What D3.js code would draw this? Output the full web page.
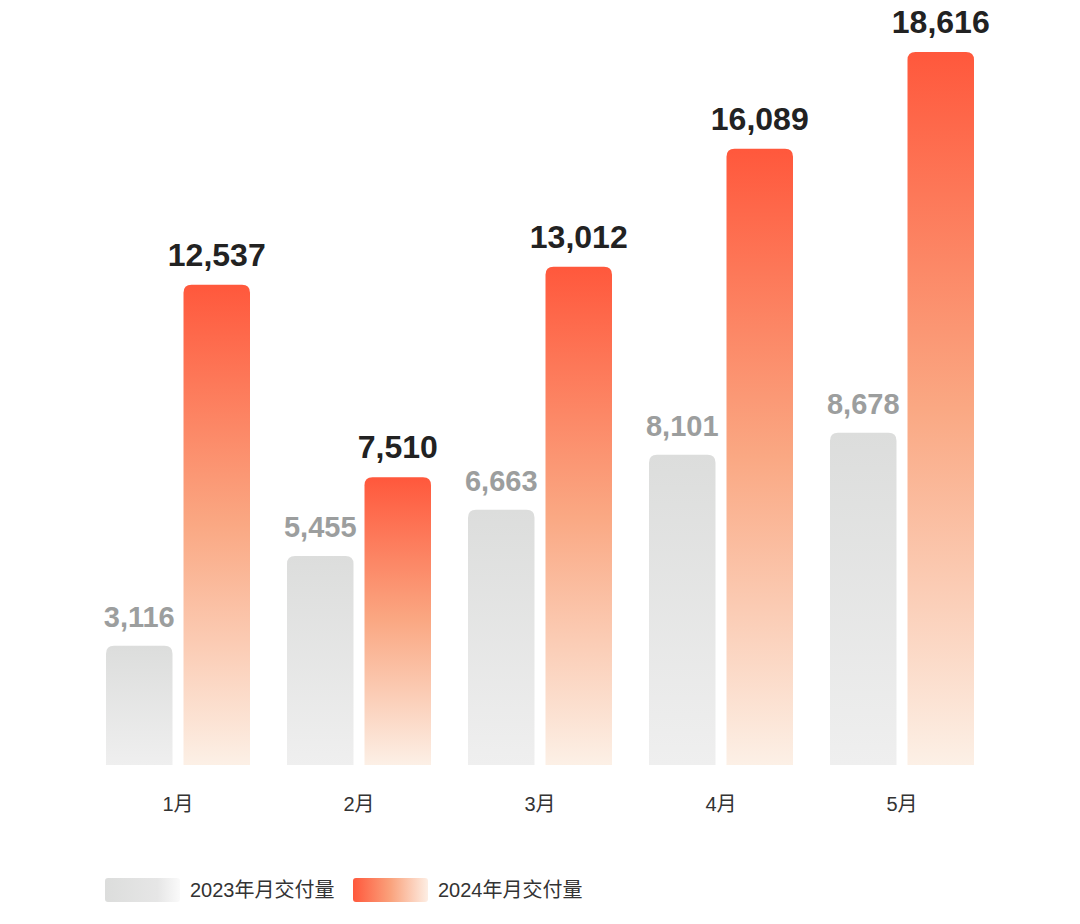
<!doctype html>
<html>
<head>
  <meta charset="utf-8">
  <title>月交付量</title>
  <style>
    body { margin: 0; background: #fff; }
    svg { display: block; font-family: "Liberation Sans", Arial, "Noto Sans CJK SC", sans-serif; }
  </style>
</head>
<body>
  <div id="chart"></div>
  <script src="https://cdn.jsdelivr.net/npm/d3@7/dist/d3.min.js"></script>
  <script>
    const months = ['1月', '2月', '3月', '4月', '5月'];
    const series = ['2023', '2024'];
    const values2023 = [3116, 5455, 6663, 8101, 8678];
    const values2024 = [12537, 7510, 13012, 16089, 18616];
    const legendLabels = ['2023年月交付量', '2024年月交付量'];

    const width = 1080;
    const height = 924;
    const baseY = 765;
    const topY = 52;

    const svg = d3.select('#chart').append('svg')
      .attr('width', width).attr('height', height);

    const defs = svg.append('defs');

    // vertical gradients for bars
    const gGray = defs.append('linearGradient').attr('id', 'barGray')
      .attr('x1', 0).attr('y1', 0).attr('x2', 0).attr('y2', 1);
    gGray.append('stop').attr('offset', '0%').attr('stop-color', '#dcdddc');
    gGray.append('stop').attr('offset', '100%').attr('stop-color', '#efefef');

    const gOrange = defs.append('linearGradient').attr('id', 'barOrange')
      .attr('x1', 0).attr('y1', 0).attr('x2', 0).attr('y2', 1);
    gOrange.append('stop').attr('offset', '0%').attr('stop-color', '#ff583c');
    gOrange.append('stop').attr('offset', '50%').attr('stop-color', '#faa883');
    gOrange.append('stop').attr('offset', '100%').attr('stop-color', '#fcf0e6');

    // horizontal gradients for legend
    const lGray = defs.append('linearGradient').attr('id', 'legGray');
    lGray.append('stop').attr('offset', '0%').attr('stop-color', '#dcdddc');
    lGray.append('stop').attr('offset', '70%').attr('stop-color', '#e6e6e6');
    lGray.append('stop').attr('offset', '100%').attr('stop-color', '#fafafa');

    const lOrange = defs.append('linearGradient').attr('id', 'legOrange');
    lOrange.append('stop').attr('offset', '0%').attr('stop-color', '#ff583c');
    lOrange.append('stop').attr('offset', '50%').attr('stop-color', '#faa27c');
    lOrange.append('stop').attr('offset', '100%').attr('stop-color', '#fdeee4');

    const x0 = d3.scaleBand().domain(months)
      .range([87.5, 992.5]).paddingInner(0.2044).paddingOuter(0.1022);
    const x1 = d3.scaleBand().domain(series)
      .range([0, x0.bandwidth()]).paddingInner(0.142);
    const y = d3.scaleLinear().domain([0, d3.max(values2024)]).range([baseY, topY]);

    const fills = { '2023': 'url(#barGray)', '2024': 'url(#barOrange)' };
    const labelStyle = {
      '2023': { color: '#9c9e9e', size: 29 },
      '2024': { color: '#222222', size: 32 }
    };

    const rows = months.map((m, i) => ({
      month: m,
      items: [
        { key: '2023', value: values2023[i] },
        { key: '2024', value: values2024[i] }
      ]
    }));

    // path with rounded top corners only
    const topRounded = (x, yTop, w, h, r) =>
      `M${x},${yTop + h}V${yTop + r}Q${x},${yTop} ${x + r},${yTop}` +
      `H${x + w - r}Q${x + w},${yTop} ${x + w},${yTop + r}V${yTop + h}Z`;

    const groups = svg.selectAll('g.month').data(rows).join('g')
      .attr('class', 'month')
      .attr('transform', d => `translate(${x0(d.month)},0)`);

    groups.selectAll('path').data(d => d.items).join('path')
      .attr('d', d => topRounded(x1(d.key), y(d.value), x1.bandwidth(), baseY - y(d.value), 8))
      .attr('fill', d => fills[d.key]);

    const fmt = d3.format(',');
    groups.selectAll('text.val').data(d => d.items).join('text')
      .attr('class', 'val')
      .attr('x', d => x1(d.key) + x1.bandwidth() / 2)
      .attr('y', d => y(d.value) - 19)
      .attr('text-anchor', 'middle')
      .attr('font-weight', 'bold')
      .attr('font-size', d => labelStyle[d.key].size)
      .attr('fill', d => labelStyle[d.key].color)
      .text(d => fmt(d.value));

    // month axis labels
    const xAxis = d3.axisBottom(x0).tickSize(0).tickPadding(0);
    const axisG = svg.append('g').attr('transform', `translate(0,${baseY + 30})`).call(xAxis);
    axisG.select('.domain').remove();
    axisG.selectAll('text')
      .attr('font-size', 20)
      .attr('fill', '#333')
      .attr('dy', '0.8em')
      .style('font-family', '"Liberation Sans", Arial, "Noto Sans CJK SC", sans-serif');

    // legend
    const legend = svg.append('g').attr('transform', 'translate(105,878)');
    const legendFills = ['url(#legGray)', 'url(#legOrange)'];
    const legendX = [0, 248];
    legendLabels.forEach((lab, i) => {
      const g = legend.append('g').attr('transform', `translate(${legendX[i]},0)`);
      g.append('rect').attr('width', 75).attr('height', 24).attr('rx', 3)
        .attr('fill', legendFills[i]);
      g.append('text').attr('x', 85).attr('y', 19)
        .attr('font-size', 20).attr('fill', '#333').text(lab);
    });
  </script>
</body>
</html>
